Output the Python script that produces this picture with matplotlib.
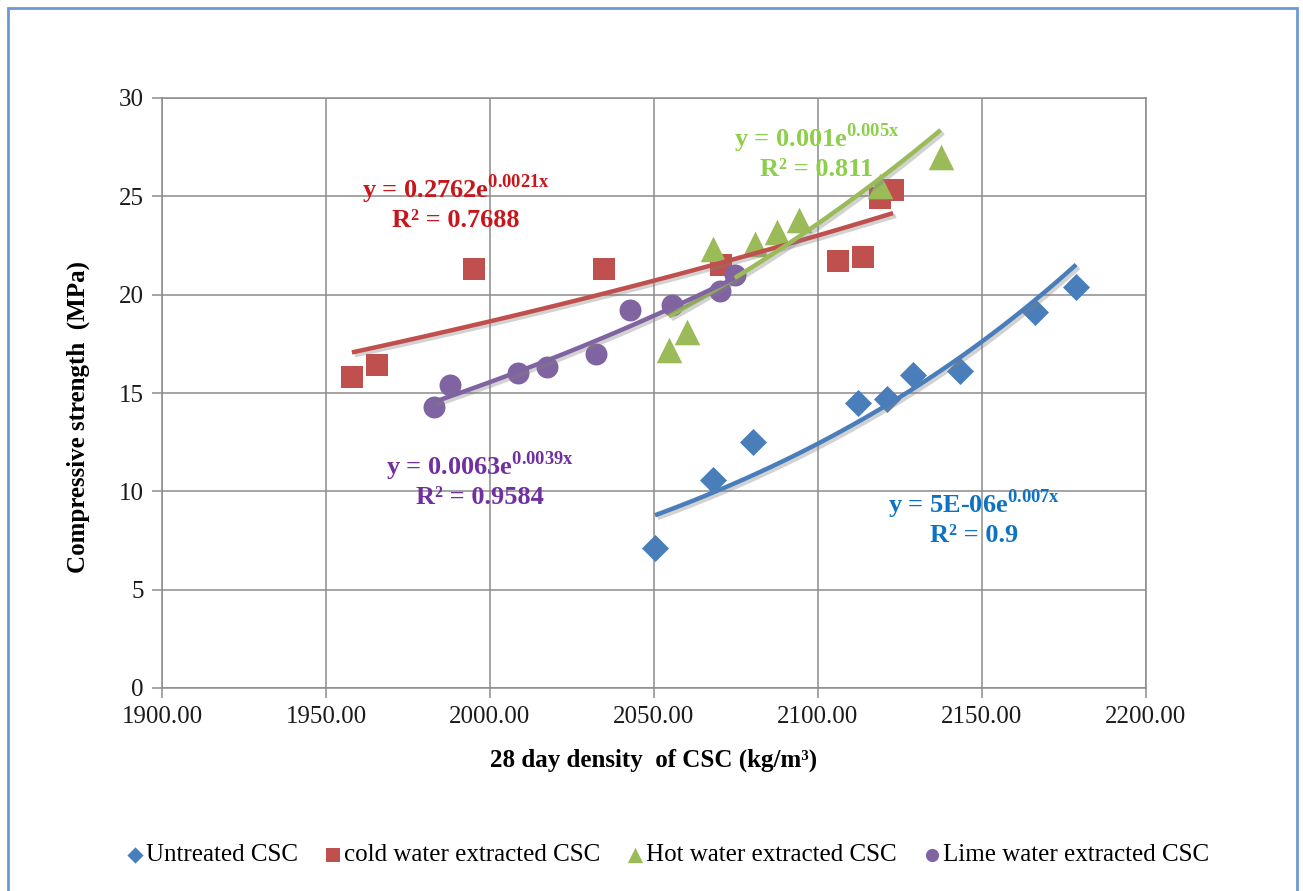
import numpy as np
import matplotlib
matplotlib.use("Agg")
import matplotlib.pyplot as plt
import matplotlib.patheffects as pe
from matplotlib.patches import Rectangle

# data
untreated_x = [2050.3, 2068.0, 2080.3, 2112.1, 2121.0, 2129.0, 2143.3, 2166.2, 2178.7]
untreated_y = [7.1, 10.6, 12.5, 14.5, 14.7, 15.9, 16.1, 19.1, 20.4]

cold_x = [1957.9, 1965.6, 1995.2, 2034.8, 2070.5, 2106.1, 2113.7, 2118.9, 2122.9]
cold_y = [15.8, 16.4, 21.3, 21.3, 21.5, 21.7, 21.9, 24.9, 25.3]

hot_x = [2054.5, 2060.0, 2068.0, 2080.8, 2087.6, 2094.2, 2118.9, 2137.4]
hot_y = [17.2, 18.1, 22.3, 22.6, 23.2, 23.8, 25.5, 27.0]

lime_x = [1982.8, 1987.8, 2008.6, 2017.4, 2032.3, 2042.6, 2055.5, 2070.1, 2074.6]
lime_y = [14.3, 15.4, 16.0, 16.3, 17.0, 19.2, 19.5, 20.2, 21.0]

labels = ["Untreated CSC", "cold water extracted CSC",
          "Hot water extracted CSC", "Lime water extracted CSC"]
equations = [r"y = 5E-06e$^{\mathbf{0.007x}}$" + "\nR² = 0.9",
             r"y = 0.2762e$^{\mathbf{0.0021x}}$" + "\nR² = 0.7688",
             r"y = 0.001e$^{\mathbf{0.005x}}$" + "\nR² = 0.811",
             r"y = 0.0063e$^{\mathbf{0.0039x}}$" + "\nR² = 0.9584"]
x_ticks = [1900, 1950, 2000, 2050, 2100, 2150, 2200]
y_ticks = [0, 5, 10, 15, 20, 25, 30]

plt.rcParams['font.family'] = ['Liberation Serif', 'DejaVu Serif']
plt.rcParams['mathtext.fontset'] = 'custom'
plt.rcParams['mathtext.rm'] = 'Liberation Serif'
plt.rcParams['mathtext.bf'] = 'Liberation Serif:bold'

colors = ['#4A7EBB', '#C0504D', '#9BBB59', '#8064A2']
eq_colors = ['#0E72C4', '#C8171C', '#8DCF4B', '#7030A0']
markers = ['D', 's', '^', 'o']
msizes = [190, 260, 340, 250]
eq_pos = [(2147.5, 8.7), (1989.5, 24.7), (2099.5, 27.3), (1997.0, 10.6)]

fig = plt.figure(figsize=(13.03, 8.91), dpi=100)
ax = fig.add_axes([162/1303, 1-688/891, (1146-162)/1303, (688-98)/891])

# outer chart border
fig.patches.append(Rectangle((8/1303, -0.05), (1297-8)/1303, 1-8/891+0.05,
                             transform=fig.transFigure, fill=False,
                             edgecolor='#6B9BD6', linewidth=2))

series = [(untreated_x, untreated_y), (cold_x, cold_y), (hot_x, hot_y), (lime_x, lime_y)]
shadow = [pe.SimpleLineShadow(offset=(2, -2), shadow_color='gray', alpha=0.35), pe.Normal()]

for i, (x, y) in enumerate(series):
    x = np.array(x)
    y = np.array(y)
    ax.scatter(x, y, marker=markers[i], s=msizes[i], color=colors[i],
               label=labels[i], zorder=3, linewidths=0)
    # exponential trendline (least squares on log y, like Excel)
    b, a = np.polyfit(x, np.log(y), 1)
    xs = np.linspace(x.min(), x.max(), 100)
    ax.plot(xs, np.exp(a) * np.exp(b * xs), color=colors[i], lw=3.2,
            zorder=4, path_effects=shadow, solid_capstyle='butt')
    ax.text(eq_pos[i][0], eq_pos[i][1], equations[i], color=eq_colors[i],
            fontsize=19, fontweight='bold', ha='center', va='center',
            multialignment='center', linespacing=1.15, zorder=5)

ax.set_xlim(1900, 2200)
ax.set_ylim(0, 30)
ax.set_xticks(x_ticks)
ax.set_xticklabels([f"{v:.2f}" for v in x_ticks])
ax.set_yticks(y_ticks)
ax.grid(True, color='#8C8C8C', linewidth=1.1)
ax.set_axisbelow(True)
for s in ax.spines.values():
    s.set_color('#8C8C8C')
    s.set_linewidth(1.1)
ax.tick_params(axis='both', labelsize=18, color='#8C8C8C', length=7,
               width=1.1, pad=6, labelcolor='#1a1a1a')
ax.set_xlabel("28 day density  of CSC (kg/m³)", fontsize=18,
              fontweight='bold', labelpad=15)
ax.set_ylabel("Compressive strength  (MPa)", fontsize=18, fontweight='bold')
ax.yaxis.set_label_coords(-0.073, 0.46)

fig.legend(loc='center', bbox_to_anchor=(667/1303, 1-855/891), ncol=4,
           frameon=False, fontsize=18, handletextpad=0.05, columnspacing=1.0,
           markerscale=0.6, handlelength=0.8, borderpad=0)

fig.savefig('out.png', dpi=100)
